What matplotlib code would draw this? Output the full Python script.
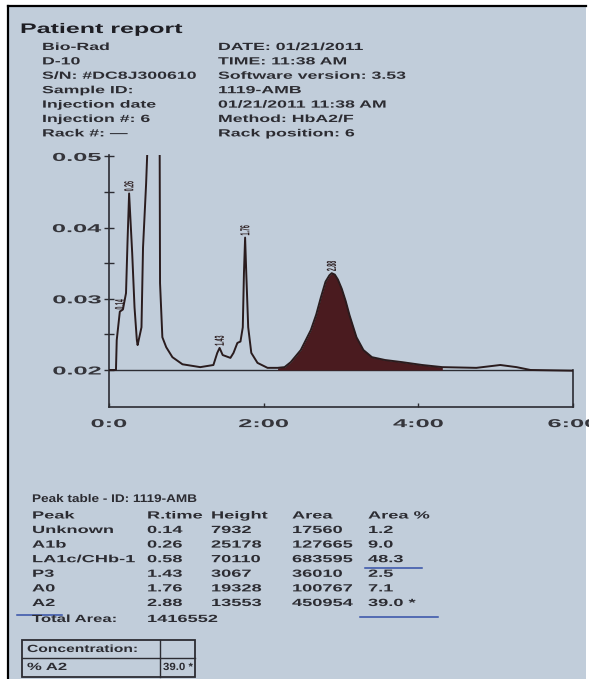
import numpy as np
import matplotlib
matplotlib.use("Agg")
import matplotlib.pyplot as plt
from matplotlib.patheffects import AbstractPathEffect
from matplotlib.transforms import Affine2D
from matplotlib.patches import Rectangle
from matplotlib.lines import Line2D

# --- report data ---
header_left = ["Bio-Rad", "D-10", "S/N: #DC8J300610", "Sample ID:",
               "Injection date", "Injection #: 6", "Rack #: \u2014"]
header_right = ["DATE: 01/21/2011", "TIME: 11:38 AM", "Software version: 3.53",
                "1119-AMB", "01/21/2011 11:38 AM", "Method: HbA2/F",
                "Rack position: 6"]

table_columns = ["Peak", "R.time", "Height", "Area", "Area %"]
peak_names = ["Unknown", "A1b", "LA1c/CHb-1", "P3", "A0", "A2"]
peak_rtime = [0.14, 0.26, 0.58, 1.43, 1.76, 2.88]
peak_height = [7932, 25178, 70110, 3067, 19328, 13553]
peak_area = [17560, 127665, 683595, 36010, 100767, 450954]
peak_area_pct = ["1.2", "9.0", "48.3", "2.5", "7.1", "39.0 *"]
total_area = 1416552
conc_a2 = "39.0 *"

# chromatogram (time in min, absorbance)
trace_time = [0.00, 0.09, 0.10, 0.12, 0.14, 0.18, 0.22, 0.24, 0.26, 0.30,
              0.33, 0.36, 0.37, 0.42, 0.44, 0.48, 0.50, 0.58, 0.655, 0.66,
              0.69, 0.74, 0.82, 0.95, 1.18, 1.35, 1.40, 1.43, 1.47, 1.57,
              1.61, 1.66, 1.70, 1.73, 1.745, 1.76, 1.775, 1.80, 1.84, 1.92,
              2.05, 2.18, 2.27, 2.35, 2.48, 2.61, 2.68, 2.74, 2.80, 2.85,
              2.88, 2.92, 2.96, 3.01, 3.06, 3.11, 3.20, 3.29, 3.40, 3.57,
              3.79, 4.05, 4.31, 4.75, 5.06, 5.27, 5.45, 6.00]
trace_abs = [0.0200, 0.0200, 0.0242, 0.0262, 0.0282, 0.0285, 0.0308, 0.0382, 0.0448, 0.0364,
             0.0288, 0.0242, 0.0235, 0.0260, 0.0372, 0.0462, 0.0520, 0.0850, 0.0520, 0.0322,
             0.0246, 0.0232, 0.0218, 0.0208, 0.0204, 0.0207, 0.0224, 0.0231, 0.0221, 0.0217,
             0.0224, 0.0238, 0.0240, 0.0260, 0.0336, 0.0386, 0.0336, 0.0260, 0.0224, 0.0210,
             0.0203, 0.0203, 0.0204, 0.0211, 0.0228, 0.0256, 0.0278, 0.0302, 0.0324, 0.0333,
             0.0336, 0.0334, 0.0327, 0.0314, 0.0297, 0.0277, 0.0246, 0.0228, 0.0218, 0.0214,
             0.0211, 0.0207, 0.0204, 0.0203, 0.0207, 0.0204, 0.0200, 0.0199]

# peaks that carry a retention-time label on the plot, with their apex
label_times = [0.14, 0.26, 1.43, 1.76, 2.88]
label_tops = [0.0282, 0.0448, 0.0231, 0.0386, 0.0336]

BASELINE = 0.02
A2_WINDOW = (2.15, 4.35)
y_ticks = [0.02, 0.03, 0.04, 0.05]
y_minor = [0.025, 0.035, 0.045]
x_ticks = [0, 2, 4, 6]
x_ticklabels = ["0:0", "2:00", "4:00", "6:00"]

# --- style ---
W, H = 589, 679
PAPER = "#c1cdda"
INK = "#2c2c32"
TRACE = "#2a1c1e"
FILL = "#4a1b1f"
PEN = "#3551a8"
FONT = "Liberation Sans"


class StretchX(AbstractPathEffect):
    """Widen glyphs horizontally, like the stretched photo of the printout."""

    def __init__(self, sx=1.7, anchor="left"):
        super().__init__()
        self.sx = sx
        self.anchor = anchor

    def draw_path(self, renderer, gc, tpath, affine, rgbFace=None):
        box = tpath.get_extents(affine)
        if self.anchor == "right":
            x0 = box.x1
        elif self.anchor == "center":
            x0 = (box.x0 + box.x1) / 2
        else:
            x0 = affine.get_matrix()[0, 2]
        st = Affine2D().translate(-x0, 0).scale(self.sx, 1).translate(x0, 0)
        renderer.draw_path(gc, tpath, affine + st, rgbFace)


def fx(x):
    return x / W


def fy(y):
    return 1 - y / H


fig = plt.figure(figsize=(W / 100, H / 100), dpi=100)
fig.patch.set_facecolor("white")

# paper + photo frame
fig.add_artist(Rectangle((fx(8), 0), fx(586) - fx(8), fy(6), transform=fig.transFigure,
                         facecolor=PAPER, edgecolor="none", zorder=0))
fig.add_artist(Line2D([fx(7.5), fx(7.5)], [0, fy(5.5)], color="black", lw=1.6))
fig.add_artist(Line2D([fx(7.5), fx(586)], [fy(5.5), fy(5.5)], color="black", lw=1.6))


def put(x, y, s, size=7.5, sx=1.7, ha="left", color=INK):
    fig.text(fx(x), fy(y), s, fontsize=size, fontweight="bold", family=FONT,
             color=color, ha=ha, va="center", path_effects=[StretchX(sx, ha)])


# --- header ---
put(20, 29, "Patient report", size=10, sx=1.8, color="#1e1e24")
for i, (l, r) in enumerate(zip(header_left, header_right)):
    y = 47 + i * 14.4
    put(42, y, l)
    put(218, y, r)

# --- chromatogram ---
ax = fig.add_axes([fx(109), fy(407), (573 - 109) / W, (407 - 155) / H])
ax.set_facecolor("none")
ax.set_xlim(0, 6)
ax.set_ylim(0.0148, 0.0502)

t = np.array(trace_time)
v = np.array(trace_abs)
ax.axhline(BASELINE, color=INK, lw=1.0, zorder=2)
ax.fill_between(t, BASELINE, v, where=(t >= A2_WINDOW[0]) & (t <= A2_WINDOW[1]),
                color=FILL, lw=0, zorder=3)
ax.plot(t, v, color=TRACE, lw=1.4, zorder=4)

for lt, top in zip(label_times, label_tops):
    ax.annotate(f"{lt:.2f}", (lt, top), xytext=(0, 1.5), textcoords="offset points",
                rotation=90, ha="center", va="bottom", fontsize=3.8, fontweight="bold",
                family=FONT, color=TRACE, path_effects=[StretchX(2.5, "center")])

ax.set_yticks(y_ticks, labels=[f"{y:.2f}" for y in y_ticks])
ax.set_yticks(y_minor, minor=True)
ax.set_xticks(x_ticks, labels=x_ticklabels)
ax.tick_params(axis="y", which="both", direction="inout", length=7, width=1.0,
               color=INK, pad=2, labelsize=8.3, labelcolor="#35353b")
ax.tick_params(axis="x", direction="in", length=3, width=1.0, color=INK,
               pad=8, labelsize=8.3, labelcolor="#35353b")
plt.setp(ax.get_yticklabels(), fontweight="bold", family=FONT,
         path_effects=[StretchX(2.2, "right")])
plt.setp(ax.get_xticklabels(), fontweight="bold", family=FONT,
         path_effects=[StretchX(2.2, "center")])

for side in ["left", "bottom", "right"]:
    ax.spines[side].set_color(INK)
    ax.spines[side].set_linewidth(1.2)
ax.spines["top"].set_visible(False)
ax.spines["right"].set_bounds(0.0148, BASELINE)

# --- peak table ---
col_x = [32, 147, 211, 292, 368]
put(32, 499, "Peak table - ID: 1119-AMB", size=8, sx=1.22)
for cx, name in zip(col_x, table_columns):
    put(cx, 515.5, name, sx=1.75)
rows = zip(peak_names, peak_rtime, peak_height, peak_area, peak_area_pct)
for i, (n, rt, h, a, pct) in enumerate(rows):
    y = 530 + i * 14.6
    cells = [n, f"{rt:.2f}", str(h), str(a), pct]
    for cx, c in zip(col_x, cells):
        put(cx, y, c, sx=1.75)
put(32, 619, "Total Area:", sx=1.6)
put(147, 619, str(total_area), sx=1.75)

# pen marks on the printout
for x0, x1, y in [(365, 422, 568), (360, 438, 617), (17, 62, 615)]:
    fig.add_artist(Line2D([fx(x0), fx(x1)], [fy(y), fy(y)], color=PEN, lw=1.1))

# --- concentration box ---
fig.add_artist(Rectangle((fx(22), fy(677)), fx(195) - fx(22), fy(640) - fy(677),
                         transform=fig.transFigure, facecolor="none",
                         edgecolor=INK, lw=1.3))
fig.add_artist(Line2D([fx(22), fx(195)], [fy(658), fy(658)], color=INK, lw=1.0))
fig.add_artist(Line2D([fx(160), fx(160)], [fy(640), fy(677)], color=INK, lw=1.0))
put(27, 649, "Concentration:", sx=1.5)
put(27, 667, "% A2", sx=1.6)
put(163, 667, conc_a2, size=7.5, sx=1.1)

fig.savefig("out.png", dpi=100, facecolor=fig.get_facecolor())
